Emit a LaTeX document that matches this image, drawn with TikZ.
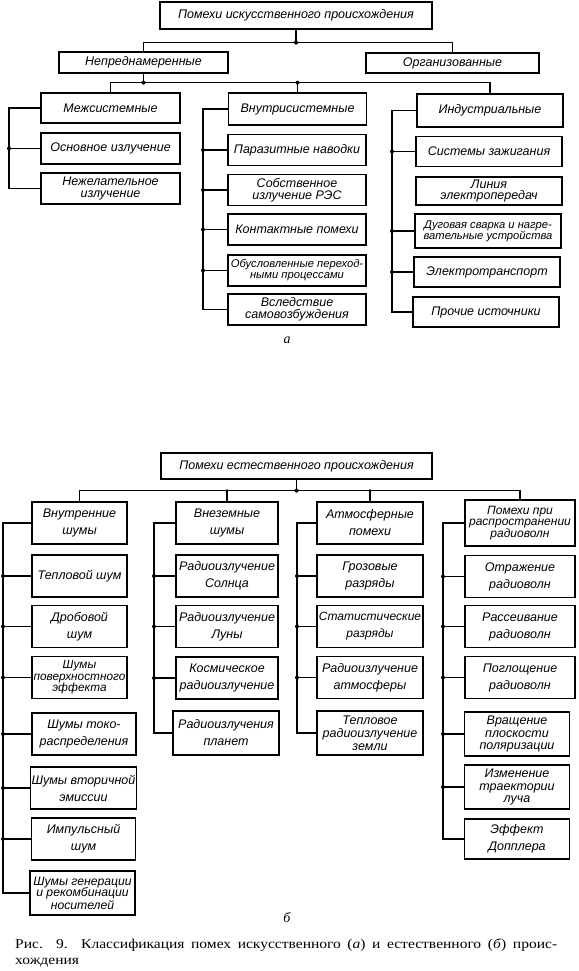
\documentclass[tikz,border=0pt]{standalone}
\usepackage{fontspec}
\setmainfont{Liberation Serif}
\newfontfamily\sketchfont{Liberation Sans}
\newfontfamily\captionfont[FakeStretch=1.15]{Liberation Serif}
\tikzset{
    plain-box/.style = {draw, line width=1.3pt, rectangle, inner sep=1pt, align=center, font=\sketchfont\itshape\fontsize{12.5}{11.5}\selectfont},
    loose-box/.style = {plain-box, font=\sketchfont\itshape\fontsize{12.5}{17}\selectfont},
    small-box/.style = {plain-box, font=\sketchfont\itshape\fontsize{11.2}{11}\selectfont},
    col-a1/.style = {plain-box, minimum width=139pt, minimum height=31pt},
    col-a2/.style = {plain-box, minimum width=138pt, minimum height=31pt},
    col-a3/.style = {plain-box, minimum width=146pt, minimum height=30pt},
    col-b/.style = {loose-box, minimum height=42pt},
    link/.style = {line width=1.3pt},
    caption-text/.style = {inner sep=0pt, anchor=west, font=\captionfont\fontsize{13.5}{14}\selectfont},
}

\begin{document}
\begin{tikzpicture}[x=1pt, y=-1pt]
\useasboundingbox (0,0) rectangle (578,971);

\node[plain-box, minimum width=272pt, minimum height=27pt] (art) at (296,15.5) {Помехи искусственного происхождения};
\node[plain-box, minimum width=169pt, minimum height=21pt] (unint) at (143.5,62.5) {Непреднамеренные};
\node[plain-box, minimum width=173pt, minimum height=20pt] (organ) at (452.5,63) {Организованные};
\node[col-a1, minimum height=30pt] (inter) at (110.5,108) {Межсистемные};
\node[col-a2, minimum height=32pt] (intra) at (297.5,109) {Внутрисистемные};
\node[col-a3, minimum height=33pt] (indus) at (490,110.5) {Индустриальные};

\node[col-a1] (basic) at (110.5,148.5) {Основное излучение};
\node[col-a1] (unwanted) at (110.5,188.5) {Нежелательное\\излучение};

\node[col-a2] (parasit) at (297,150) {Паразитные наводки};
\node[col-a2] (own) at (297,190) {Собственное\\излучение РЭС};
\node[col-a2] (contact) at (297,229.5) {Контактные помехи};
\node[col-a2, small-box] (trans) at (297,270.5) {Обусловленные переход-\\ными процессами};
\node[col-a2] (selfexc) at (297,309.5) {Вследствие\\самовозбуждения};

\node[col-a3] (ignit) at (489,151.5) {Системы зажигания};
\node[col-a3, minimum height=28pt] (powerline) at (489,191) {Линия\\электропередач};
\node[col-a3, small-box, minimum height=34pt] (arcweld) at (488,231) {Дуговая сварка и нагре-\\вательные устройства};
\node[col-a3] (eltrans) at (487,272) {Электротранспорт};
\node[col-a3] (other) at (486,312) {Прочие источники};

\path (art.south) ++(0,13) coordinate (top-split);
\path (unint.south) ++(0,9) coordinate (mid-split);
\draw[link] (art.south) -- (top-split);
\draw[link] (unint.north) |- (top-split) -| (organ.north);
\draw[link] (unint.south) -- (mid-split);
\draw[link] (inter.north) |- (mid-split) -| (indus.north);
\draw[link] (intra.north) -- (intra.north |- mid-split);
\fill (top-split) circle (2pt);
\fill (mid-split) circle (2pt);
\fill (intra.north |- mid-split) circle (2pt);

\coordinate (spine-a1) at (9,0);
\coordinate (spine-a2) at (203,0);
\coordinate (spine-a3) at (392,0);

\draw[link] (inter.west) -| (spine-a1 |- unwanted.west) -- (unwanted.west);
\draw[link] (spine-a1 |- basic.west) -- (basic.west);
\fill (spine-a1 |- basic.west) circle (2pt);

\draw[link] (intra.west) -| (spine-a2 |- selfexc.west) -- (selfexc.west);
\draw[link] (spine-a2 |- parasit.west) -- (parasit.west);
\draw[link] (spine-a2 |- own.west) -- (own.west);
\draw[link] (spine-a2 |- contact.west) -- (contact.west);
\draw[link] (spine-a2 |- trans.west) -- (trans.west);
\fill (spine-a2 |- parasit.west) circle (2pt);
\fill (spine-a2 |- own.west) circle (2pt);
\fill (spine-a2 |- contact.west) circle (2pt);
\fill (spine-a2 |- trans.west) circle (2pt);

\draw[link] (indus.west) -| (spine-a3 |- other.west) -- (other.west);
\draw[link] (spine-a3 |- ignit.west) -- (ignit.west);
\draw[link] (spine-a3 |- arcweld.west) -- (arcweld.west);
\draw[link] (spine-a3 |- eltrans.west) -- (eltrans.west);
\fill (spine-a3 |- ignit.west) circle (2pt);
\fill (spine-a3 |- arcweld.west) circle (2pt);
\fill (spine-a3 |- eltrans.west) circle (2pt);

\node[font=\itshape\fontsize{14}{14}\selectfont] (label-a) at (287,340) {а};

\node[plain-box, minimum width=271pt, minimum height=26pt] (nat) at (296.5,466) {Помехи естественного происхождения};
\node[col-b, minimum width=95pt] (internal) at (79.5,523) {Внутренние\\шумы};
\node[col-b, minimum width=102pt] (space) at (227,523) {Внеземные\\шумы};
\node[col-b, minimum width=106pt] (atmos) at (370,523) {Атмосферные\\помехи};
\node[col-b, plain-box, minimum width=110pt, minimum height=46pt, font=\sketchfont\itshape\fontsize{12}{11}\selectfont] (propag) at (520,523) {Помехи при\\распространении\\радиоволн};

\node[col-b, minimum width=95pt] (thermal) at (79.5,576) {Тепловой шум};
\node[col-b, minimum width=95pt] (shot) at (79.5,626.5) {Дробовой\\шум};
\node[col-b, plain-box, minimum width=95pt, font=\sketchfont\itshape\fontsize{11.8}{11.5}\selectfont] (surface) at (79.5,677.5) {Шумы\\поверхностного\\эффекта};
\node[col-b, minimum width=104pt] (current) at (84,734) {Шумы токо-\\распределения};
\node[col-b, minimum width=104pt] (secondary) at (83.5,788) {Шумы вторичной\\эмиссии};
\node[col-b, minimum width=104pt] (impulse) at (83.5,839) {Импульсный\\шум};
\node[col-b, plain-box, minimum width=105pt, minimum height=44pt, font=\sketchfont\itshape\fontsize{12.2}{11.5}\selectfont] (genrec) at (82.5,893) {Шумы генерации\\и рекомбинации\\носителей};

\node[col-b, minimum width=102pt] (sun) at (227,576) {Радиоизлучение\\Солнца};
\node[col-b, minimum width=102pt] (moon) at (227,626.5) {Радиоизлучение\\Луны};
\node[col-b, minimum width=102pt] (cosmic) at (227,678) {Космическое\\радиоизлучение};
\node[col-b, minimum width=106pt, minimum height=44pt] (planets) at (226,733) {Радиоизлучения\\планет};

\node[col-b, minimum width=106pt] (thunder) at (370,576) {Грозовые\\разряды};
\node[col-b, minimum width=106pt, font=\sketchfont\itshape\fontsize{12}{17}\selectfont] (static) at (370,626.5) {Статистические\\разряды};
\node[col-b, minimum width=106pt] (atmrad) at (370,677.5) {Радиоизлучение\\атмосферы};
\node[col-b, plain-box, minimum width=106pt, minimum height=44pt, font=\sketchfont\itshape\fontsize{12.5}{13}\selectfont] (earthrad) at (370,733) {Тепловое\\радиоизлучение\\земли};

\node[col-b, minimum width=110pt] (reflect) at (520,576.5) {Отражение\\радиоволн};
\node[col-b, minimum width=110pt] (scatter) at (520,626.5) {Рассеивание\\радиоволн};
\node[col-b, minimum width=110pt] (absorb) at (520,677.5) {Поглощение\\радиоволн};
\node[col-b, plain-box, minimum width=105pt, minimum height=44pt, font=\sketchfont\itshape\fontsize{12.5}{12.5}\selectfont] (rotate) at (517,734) {Вращение\\плоскости\\поляризации};
\node[col-b, plain-box, minimum width=105pt, minimum height=44pt, font=\sketchfont\itshape\fontsize{12.5}{12.5}\selectfont] (trajectory) at (517,787) {Изменение\\траектории\\луча};
\node[col-b, minimum width=105pt, minimum height=40pt] (doppler) at (517,839) {Эффект\\Допплера};

\path (nat.south) ++(0,11) coordinate (nat-split);
\draw[link] (nat.south) -- (nat-split);
\draw[link] (internal.north) |- (nat-split) -| (propag.north);
\draw[link] (space.north) -- (space.north |- nat-split);
\draw[link] (atmos.north) -- (atmos.north |- nat-split);
\fill (nat-split) circle (2pt);
\fill (space.north |- nat-split) circle (1.6pt);
\fill (atmos.north |- nat-split) circle (1.6pt);

\coordinate (spine-b1) at (3,0);
\coordinate (spine-b2) at (154,0);
\coordinate (spine-b3) at (297,0);
\coordinate (spine-b4) at (443,0);

\draw[link] (internal.west) -| (spine-b1 |- genrec.west) -- (genrec.west);
\draw[link] (spine-b1 |- thermal.west) -- (thermal.west);
\draw[link] (spine-b1 |- shot.west) -- (shot.west);
\draw[link] (spine-b1 |- surface.west) -- (surface.west);
\draw[link] (spine-b1 |- current.west) -- (current.west);
\draw[link] (spine-b1 |- secondary.west) -- (secondary.west);
\draw[link] (spine-b1 |- impulse.west) -- (impulse.west);
\fill (spine-b1 |- thermal.west) circle (2pt);
\fill (spine-b1 |- shot.west) circle (2pt);
\fill (spine-b1 |- surface.west) circle (2pt);
\fill (spine-b1 |- current.west) circle (2pt);
\fill (spine-b1 |- secondary.west) circle (2pt);
\fill (spine-b1 |- impulse.west) circle (2pt);

\draw[link] (space.west) -| (spine-b2 |- planets.west) -- (planets.west);
\draw[link] (spine-b2 |- sun.west) -- (sun.west);
\draw[link] (spine-b2 |- moon.west) -- (moon.west);
\draw[link] (spine-b2 |- cosmic.west) -- (cosmic.west);
\fill (spine-b2 |- sun.west) circle (2pt);
\fill (spine-b2 |- moon.west) circle (2pt);
\fill (spine-b2 |- cosmic.west) circle (2pt);

\draw[link] (atmos.west) -| (spine-b3 |- earthrad.west) -- (earthrad.west);
\draw[link] (spine-b3 |- thunder.west) -- (thunder.west);
\draw[link] (spine-b3 |- static.west) -- (static.west);
\draw[link] (spine-b3 |- atmrad.west) -- (atmrad.west);
\fill (spine-b3 |- thunder.west) circle (2pt);
\fill (spine-b3 |- static.west) circle (2pt);
\fill (spine-b3 |- atmrad.west) circle (2pt);

\draw[link] (propag.west) -| (spine-b4 |- doppler.west) -- (doppler.west);
\draw[link] (spine-b4 |- reflect.west) -- (reflect.west);
\draw[link] (spine-b4 |- scatter.west) -- (scatter.west);
\draw[link] (spine-b4 |- absorb.west) -- (absorb.west);
\draw[link] (spine-b4 |- rotate.west) -- (rotate.west);
\draw[link] (spine-b4 |- trajectory.west) -- (trajectory.west);
\fill (spine-b4 |- reflect.west) circle (2pt);
\fill (spine-b4 |- scatter.west) circle (2pt);
\fill (spine-b4 |- absorb.west) circle (2pt);
\fill (spine-b4 |- rotate.west) circle (2pt);
\fill (spine-b4 |- trajectory.west) circle (2pt);

\node[font=\itshape\fontsize{14}{14}\selectfont] (label-b) at (287,918) {б};

\node[caption-text] (caption-1) at (15,945) {\makebox[542pt][s]{Рис. 9. Классификация помех искусственного (\textit{а}) и естественного (\textit{б}) проис-}};
\node[caption-text] (caption-2) at (15,963) {хождения};
\end{tikzpicture}
\end{document}
